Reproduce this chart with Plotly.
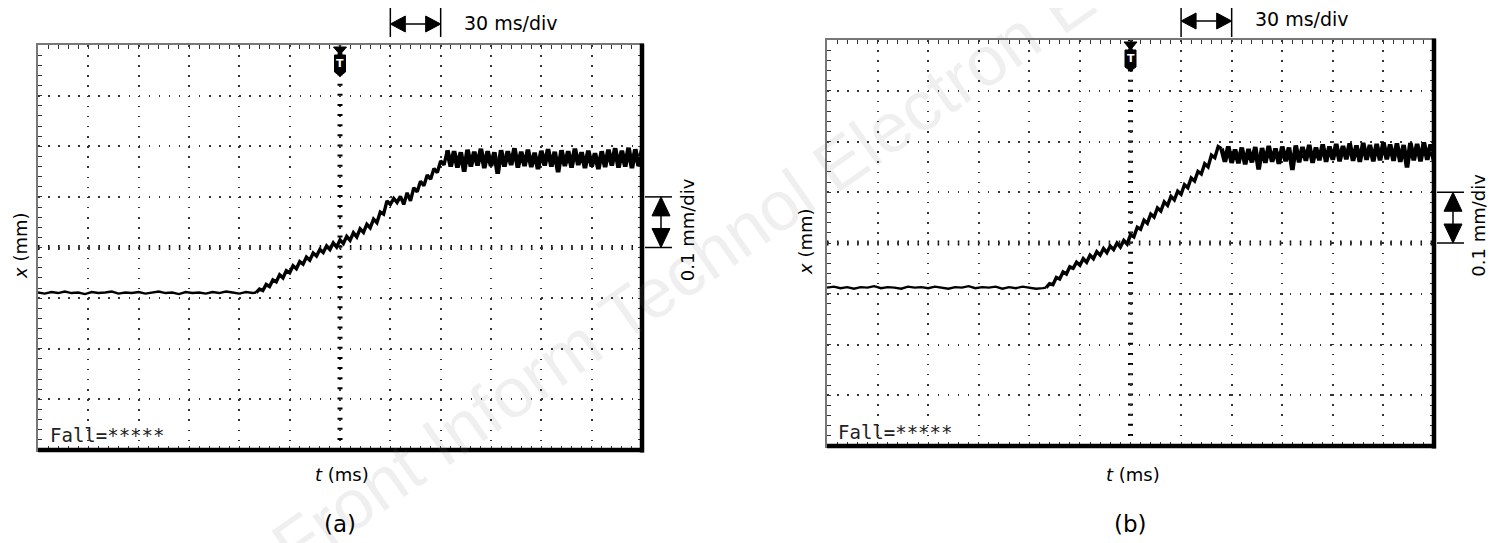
import plotly.graph_objects as go

# ---------------- data ----------------
# time axis in ms (30 ms/div, trigger at 0), position in mm (0.1 mm/div)
t_flat = list(range(-180, -51, 4))

x_flat_a = [-0.089, -0.091, -0.088, -0.090, -0.087, -0.090, -0.089, -0.092, -0.088, -0.090,
            -0.089, -0.087, -0.091, -0.089, -0.090, -0.088, -0.091, -0.089, -0.087, -0.090,
            -0.089, -0.092, -0.088, -0.090, -0.089, -0.091, -0.088, -0.090, -0.087, -0.089,
            -0.091, -0.088, -0.090]
t_rise_a = list(range(-50, 63, 2))
x_rise_a = [-0.089, -0.082, -0.085, -0.073, -0.077, -0.064, -0.068, -0.054, -0.060, -0.046,
            -0.050, -0.036, -0.042, -0.028, -0.033, -0.019, -0.025, -0.011, -0.017, -0.004,
            -0.010, 0.003, -0.004, 0.009, 0.001, 0.015, 0.008, 0.022, 0.014, 0.029,
            0.021, 0.037, 0.030, 0.046, 0.039, 0.056, 0.049, 0.070, 0.066, 0.092,
            0.085, 0.097, 0.089, 0.101, 0.085, 0.108, 0.092, 0.118, 0.110, 0.131,
            0.122, 0.143, 0.135, 0.156, 0.148, 0.171, 0.163]
t_plat_a = list(range(64, 181, 2))
x_plat_a = [0.192, 0.160, 0.190, 0.158, 0.188, 0.150, 0.193, 0.160, 0.189, 0.162,
            0.195, 0.157, 0.190, 0.161, 0.188, 0.146, 0.192, 0.160, 0.190, 0.163,
            0.196, 0.158, 0.189, 0.161, 0.193, 0.159, 0.187, 0.155, 0.191, 0.162,
            0.194, 0.160, 0.189, 0.149, 0.192, 0.161, 0.190, 0.158, 0.195, 0.163,
            0.188, 0.157, 0.191, 0.160, 0.186, 0.155, 0.190, 0.159, 0.193, 0.162,
            0.196, 0.158, 0.191, 0.160, 0.197, 0.157, 0.194, 0.161, 0.192]

x_flat_b = [-0.088, -0.086, -0.089, -0.087, -0.090, -0.087, -0.088, -0.085, -0.089, -0.087,
            -0.088, -0.090, -0.086, -0.088, -0.087, -0.089, -0.086, -0.088, -0.090, -0.087,
            -0.088, -0.085, -0.089, -0.087, -0.088, -0.086, -0.090, -0.087, -0.089, -0.086,
            -0.088, -0.090, -0.089]
t_rise_b = list(range(-50, 53, 2))
x_rise_b = [-0.088, -0.080, -0.082, -0.068, -0.071, -0.057, -0.061, -0.047, -0.050, -0.038,
            -0.044, -0.031, -0.038, -0.024, -0.031, -0.017, -0.024, -0.011, -0.019, -0.006,
            -0.013, 0.000, -0.008, 0.005, -0.002, 0.016, 0.012, 0.031, 0.027, 0.045,
            0.039, 0.057, 0.051, 0.069, 0.063, 0.081, 0.074, 0.092, 0.085, 0.102,
            0.096, 0.115, 0.109, 0.128, 0.122, 0.141, 0.136, 0.156, 0.150, 0.173,
            0.168, 0.190]
t_plat_b = list(range(54, 181, 2))
x_plat_b = [0.186, 0.160, 0.190, 0.158, 0.184, 0.157, 0.188, 0.155, 0.185, 0.159,
            0.189, 0.145, 0.187, 0.158, 0.191, 0.160, 0.186, 0.156, 0.190, 0.161,
            0.188, 0.144, 0.192, 0.159, 0.189, 0.162, 0.193, 0.158, 0.188, 0.163,
            0.194, 0.160, 0.190, 0.164, 0.195, 0.161, 0.191, 0.165, 0.196, 0.162,
            0.192, 0.160, 0.197, 0.164, 0.193, 0.161, 0.195, 0.163, 0.198, 0.165,
            0.194, 0.162, 0.196, 0.160, 0.193, 0.149, 0.197, 0.163, 0.195, 0.161,
            0.198, 0.164, 0.194, 0.162]

T_RANGE = [-180, 180]
X_RANGE = [-0.4, 0.4]
T_DIV = 30
X_DIV = 0.1
panel_labels = ["(a)", "(b)"]
time_label = "<i>t</i> (ms)"
pos_label = "<i>x</i> (mm)"
tscale_text = "30 ms/div"
xscale_text = "0.1 mm/div"
fall_text = "Fall=*****"
watermark = "Front Inform Technol Electron Eng"

# ---------------- layout geometry (screen pixels) ----------------
W, H = 1495, 543
OFF = 8                      # default page body margin
FW, FH = W - OFF, H - OFF    # figure size so that it fills the window
FONT = "DejaVu Sans"
panels = [
    dict(x0=38, x1=642, y0=45, y1=450, xa="x", ya="y", bar=(8, 37), arr_y=24, txt_y=23,
         ylab_x=20, ylab_y=246, fall=(48, 435)),
    dict(x0=827, x1=1434, y0=40, y1=446, xa="x2", ya="y2", bar=(7, 37), arr_y=21, txt_y=19,
         ylab_x=805, ylab_y=242, fall=(836, 432)),
]


def px_x(x):
    return (x - OFF) / FW


def px_y(y):
    return 1 - (y - OFF) / FH


fig = go.Figure()
series = [
    (t_flat, x_flat_a, t_rise_a, x_rise_a, t_plat_a, x_plat_a),
    (t_flat, x_flat_b, t_rise_b, x_rise_b, t_plat_b, x_plat_b),
]
for p, (tf, xf, tr, xr_, tp, xp) in zip(panels, series):
    for tt, xx, lw in ((tf + tr[:1], xf + xr_[:1], 2.4),
                       (tr + tp[:1], xr_ + xp[:1], 3.4),
                       (tp, xp, 4.6)):
        fig.add_trace(go.Scatter(x=tt, y=xx, mode="lines", xaxis=p["xa"], yaxis=p["ya"],
                                 line=dict(color="black", width=lw), showlegend=False,
                                 hoverinfo="skip"))

shapes = []
annotations = []

for i, p in enumerate(panels):
    xa, ya = p["xa"], p["ya"]
    xaxis_key = "xaxis" if xa == "x" else "xaxis2"
    yaxis_key = "yaxis" if ya == "y" else "yaxis2"
    common = dict(showgrid=True, gridcolor="#333", gridwidth=1.5, zeroline=False,
                  showticklabels=False, ticks="inside", ticklen=4, tickcolor="#333",
                  tickwidth=1, showline=True, linecolor="#777", linewidth=1.5,
                  mirror="allticks", fixedrange=True)
    fig.update_layout({
        xaxis_key: dict(common, domain=[px_x(p["x0"]), px_x(p["x1"])], range=T_RANGE,
                        dtick=T_DIV, tick0=0, griddash="1.5px,8.62px", anchor=ya,
                        minor=dict(dtick=T_DIV / 5, tick0=0, ticks="inside", ticklen=4,
                                   tickcolor="#333", tickwidth=1, showgrid=False)),
        yaxis_key: dict(common, domain=[px_y(p["y1"]), px_y(p["y0"])], range=X_RANGE,
                        dtick=X_DIV, tick0=0, griddash="1.5px,8.56px", anchor=xa,
                        minor=dict(dtick=X_DIV / 5, tick0=0, ticks="inside", ticklen=4,
                                   tickcolor="#333", tickwidth=1, showgrid=False)),
    })
    ms_px = (T_RANGE[1] - T_RANGE[0]) / (p["x1"] - p["x0"])
    mm_px = (X_RANGE[1] - X_RANGE[0]) / (p["y1"] - p["y0"])

    # center lines with tick marks
    shapes.append(dict(type="line", xref=xa, yref=ya, x0=T_RANGE[0], x1=T_RANGE[1], y0=0, y1=0,
                       line=dict(color="black", width=5, dash="1.5px,8.56px"), layer="below"))
    shapes.append(dict(type="line", xref=xa, yref=ya, x0=0, x1=0, y0=X_RANGE[0], y1=X_RANGE[1],
                       line=dict(color="black", width=5, dash="2px,8.12px"), layer="below"))
    # thick right and bottom borders
    dom_x, dom_y = xa + " domain", ya + " domain"
    shapes.append(dict(type="line", xref=dom_x, yref=dom_y, x0=1, x1=1, y0=-0.006, y1=1.003,
                       line=dict(color="black", width=4.5)))
    shapes.append(dict(type="line", xref=dom_x, yref=dom_y, x0=0, x1=1.003, y0=0, y1=0,
                       line=dict(color="black", width=4.5)))

    # trigger marker
    top = p["y0"]
    pts = [(-6.5, 2), (6.5, 2), (1.5, 8), (1.5, 10), (5.5, 10), (5.5, 27), (0, 31),
           (-5.5, 27), (-5.5, 10), (-1.5, 10), (-1.5, 8)]
    path = "M " + " L ".join(f"{dx * ms_px:.4f},{px_y(top + dy):.5f}" for dx, dy in pts) + " Z"
    shapes.append(dict(type="path", xref=xa, yref="paper", path=path,
                       fillcolor="black", line=dict(color="black", width=1)))
    annotations.append(dict(x=0, xref=xa, y=px_y(top + 18.5), yref="paper", text="<b>T</b>",
                            showarrow=False, font=dict(family=FONT, size=11, color="white"),
                            xanchor="center", yanchor="middle"))

    # horizontal scale bracket (one division: 30 -> 60 ms)
    b0, b1 = p["bar"]
    ay = p["arr_y"]
    for tb_ in (T_DIV, 2 * T_DIV):
        shapes.append(dict(type="line", xref=xa, yref="paper", x0=tb_, x1=tb_,
                           y0=px_y(b0), y1=px_y(b1), line=dict(color="black", width=1.5)))
    hl = 15 * ms_px
    for tip, base in ((T_DIV, T_DIV + hl), (2 * T_DIV, 2 * T_DIV - hl)):
        shapes.append(dict(type="path", xref=xa, yref="paper",
                           path=f"M {tip},{px_y(ay)} L {base},{px_y(ay - 8)} L {base},{px_y(ay + 8)} Z",
                           fillcolor="black", line=dict(color="black", width=1)))
    shapes.append(dict(type="line", xref=xa, yref="paper", x0=T_DIV + hl, x1=2 * T_DIV - hl,
                       y0=px_y(ay), y1=px_y(ay), line=dict(color="black", width=1.5)))
    annotations.append(dict(x=2 * T_DIV, xref=xa, xshift=21, y=px_y(p["txt_y"]), yref="paper",
                            text=tscale_text, showarrow=False, xanchor="left", yanchor="middle",
                            font=dict(family=FONT, size=19, color="black")))

    # vertical scale bracket (one division: 0 -> 0.1 mm)
    xr = p["x1"]
    for yb in (0, X_DIV):
        shapes.append(dict(type="line", xref="paper", yref=ya, x0=px_x(xr + 3), x1=px_x(xr + 30),
                           y0=yb, y1=yb, line=dict(color="black", width=1.5)))
    ax_ = xr + 19
    vl = 19 * mm_px
    for tip, base in ((X_DIV, X_DIV - vl), (0, vl)):
        shapes.append(dict(type="path", xref="paper", yref=ya,
                           path=f"M {px_x(ax_)},{tip} L {px_x(ax_ - 9)},{base} L {px_x(ax_ + 9)},{base} Z",
                           fillcolor="black", line=dict(color="black", width=1)))
    shapes.append(dict(type="line", xref="paper", yref=ya, x0=px_x(ax_), x1=px_x(ax_),
                       y0=vl, y1=X_DIV - vl, line=dict(color="black", width=1.5)))
    annotations.append(dict(x=px_x(xr + 45), xref="paper", y=X_DIV / 2, yshift=-8, yref=ya,
                            text=xscale_text, textangle=-90, showarrow=False,
                            xanchor="center", yanchor="middle",
                            font=dict(family=FONT, size=18, color="black")))

    # axis titles and panel caption
    xc = (p["x0"] + p["x1"]) / 2
    annotations.append(dict(x=px_x(xc + 2), y=px_y(474), xref="paper", yref="paper",
                            text=time_label, showarrow=False, xanchor="center", yanchor="middle",
                            font=dict(family=FONT, size=18, color="black")))
    annotations.append(dict(x=px_x(xc), y=px_y(524), xref="paper", yref="paper",
                            text=panel_labels[i], showarrow=False, xanchor="center",
                            yanchor="middle", font=dict(family=FONT, size=23, color="black")))
    annotations.append(dict(x=px_x(p["ylab_x"]), y=px_y(p["ylab_y"]), xref="paper", yref="paper",
                            text=pos_label, textangle=-90, showarrow=False, xanchor="center",
                            yanchor="middle", font=dict(family=FONT, size=18, color="black")))
    fx, fy = p["fall"]
    annotations.append(dict(x=px_x(fx), y=px_y(fy), xref="paper", yref="paper",
                            text=fall_text, showarrow=False, xanchor="left", yanchor="middle",
                            font=dict(family="DejaVu Sans Mono", size=19, color="#222")))

annotations.append(dict(x=px_x(715), y=px_y(250), xref="paper", yref="paper", text=watermark,
                        textangle=-35, showarrow=False, xanchor="center", yanchor="middle",
                        font=dict(family="Liberation Sans", size=70,
                                  color="rgba(120,120,120,0.12)")))

fig.update_layout(width=FW, height=FH, margin=dict(l=0, r=0, t=0, b=0),
                  paper_bgcolor="white", plot_bgcolor="white",
                  shapes=shapes, annotations=annotations, showlegend=False)
fig.write_html("out.html")
